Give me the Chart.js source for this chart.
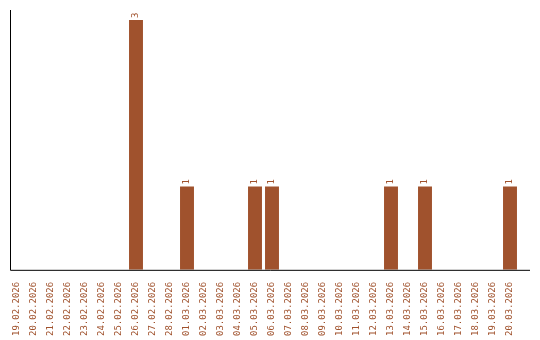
<!DOCTYPE html>
<html>
<head>
<meta charset="utf-8">
<script src="https://cdn.jsdelivr.net/npm/chart.js@4/dist/chart.umd.min.js"></script>
<style>html,body{margin:0;padding:0;background:#fff;}canvas{display:block;}</style>
</head>
<body>
<canvas id="c" width="540" height="340"></canvas>
<script>
const categories = ["19.02.2026","20.02.2026","21.02.2026","22.02.2026","23.02.2026","24.02.2026","25.02.2026","26.02.2026","27.02.2026","28.02.2026","01.03.2026","02.03.2026","03.03.2026","04.03.2026","05.03.2026","06.03.2026","07.03.2026","08.03.2026","09.03.2026","10.03.2026","11.03.2026","12.03.2026","13.03.2026","14.03.2026","15.03.2026","16.03.2026","17.03.2026","18.03.2026","19.03.2026","20.03.2026"];
const counts = [0,0,0,0,0,0,0,3,0,0,1,0,0,0,1,1,0,0,0,0,0,0,1,0,1,0,0,0,0,1];
const COLOR = "#a0522d";
const FONT = "9px 'DejaVu Sans Mono'";

const decor = {
  id: "decor",
  afterDatasetsDraw(chart) {
    const ctx = chart.ctx, a = chart.chartArea;
    ctx.save();
    ctx.strokeStyle = "#000";
    ctx.lineWidth = 1;
    ctx.beginPath();
    ctx.moveTo(10.5, a.top);
    ctx.lineTo(10.5, a.bottom + 0.5);
    ctx.lineTo(530, a.bottom + 0.5);
    ctx.stroke();
    // value labels
    const meta = chart.getDatasetMeta(0);
    ctx.fillStyle = COLOR;
    ctx.font = FONT;
    ctx.textAlign = "left";
    ctx.textBaseline = "middle";
    meta.data.forEach((bar, i) => {
      const v = counts[i];
      if (!v) return;
      ctx.save();
      ctx.translate(bar.x, bar.y - 2);
      ctx.rotate(-Math.PI / 2);
      ctx.fillText(String(v), 0, 0);
      ctx.restore();
    });
    ctx.restore();
  }
};

new Chart(document.getElementById("c"), {
  type: "bar",
  data: {
    labels: categories,
    datasets: [{ data: counts, backgroundColor: COLOR, borderWidth: 0, barPercentage: 0.82, categoryPercentage: 1 }]
  },
  options: {
    responsive: false,
    animation: false,
    devicePixelRatio: 1,
    layout: { padding: { left: 8.5, right: 21.5, top: 10, bottom: 0 } },
    plugins: { legend: { display: false }, tooltip: { enabled: false } },
    scales: {
      x: {
        grid: { display: false },
        border: { display: false },
        ticks: { color: COLOR, font: { family: "DejaVu Sans Mono", size: 9 }, minRotation: 90, maxRotation: 90, autoSkip: false, padding: 4 }
      },
      y: {
        display: false,
        min: 0,
        max: 3.12
      }
    }
  },
  plugins: [decor]
});
</script>
</body>
</html>
